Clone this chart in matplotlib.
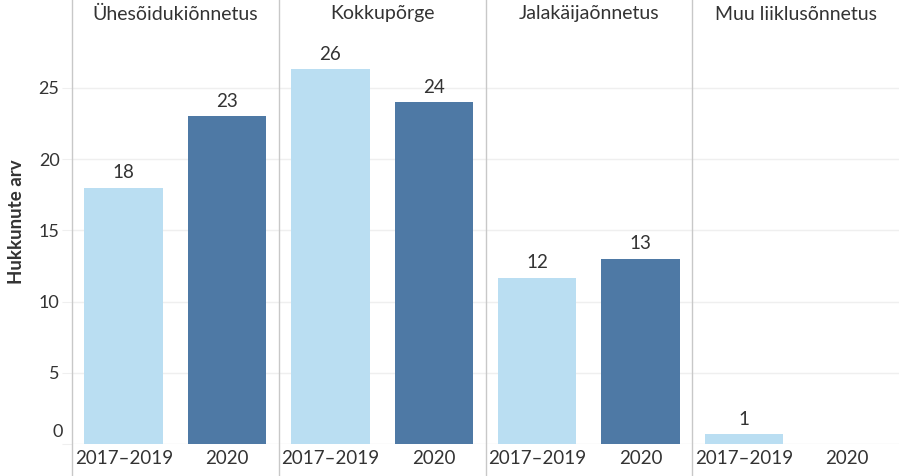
import matplotlib.pyplot as plt
import numpy as np

plt.rcParams['font.family'] = ['Lato', 'DejaVu Sans']

# data
categories = ["Ühesõidukiõnnetus", "Kokkupõrge", "Jalakäijaõnnetus", "Muu liiklusõnnetus"]
periods = ["2017–2019", "2020"]
avg_2017_2019 = [18.0, 26.33, 11.67, 0.67]
val_2020 = [23, 24, 13, 0]
label_2017_2019 = ["18", "26", "12", "1"]
label_2020 = ["23", "24", "13", ""]
yticks = [0, 5, 10, 15, 20, 25]

light = "#badef2"
dark = "#4e79a5"
txt = "#333333"

fig = plt.figure(figsize=(9, 4.76), dpi=100)
ax = fig.add_axes([72 / 900, 1 - 444 / 476, 827 / 900, 444 / 476])

n = len(categories)
x_light = np.arange(n) * 2
x_dark = np.arange(n) * 2 + 1
w = 0.76

ax.bar(x_light, avg_2017_2019, width=w, color=light, zorder=3)
ax.bar(x_dark, val_2020, width=w, color=dark, zorder=3)

for xi, v, lab in zip(x_light, avg_2017_2019, label_2017_2019):
    ax.text(xi, v + 0.45, lab, ha="center", va="bottom", fontsize=13.5, color=txt)
for xi, v, lab in zip(x_dark, val_2020, label_2020):
    if lab:
        ax.text(xi, v + 0.45, lab, ha="center", va="bottom", fontsize=13.5, color=txt)

ax.set_xlim(-0.5, 2 * n - 0.5)
ax.set_ylim(0, 444 / 14.24)

# column headers
for i, c in enumerate(categories):
    ax.text(2 * i + 0.5, 1 - 14 / 444, c, transform=ax.get_xaxis_transform(),
            ha="center", va="center", fontsize=14, color=txt)

# panel separators, running through the header and the tick label row
for i in range(n):
    ax.plot([2 * i - 0.5, 2 * i - 0.5], [-32 / 444, 1], transform=ax.get_xaxis_transform(),
            color="#c8c8c8", lw=1, clip_on=False, zorder=4)

# y ticks; the "0" label sits a bit above its gridline, like in tableau
ax.set_yticks(yticks)
ax.set_yticklabels(["" if t == 0 else str(t) for t in yticks])
ax.annotate("0", xy=(0, 0), xycoords=ax.get_yaxis_transform(), xytext=(-6.5, 8.6),
            textcoords="offset points", ha="right", va="center", fontsize=13, color=txt)
ax.yaxis.grid(True, color="#efefef", lw=1, zorder=0)
ax.tick_params(axis="y", length=7, color="#efefef", labelsize=13, labelcolor=txt, pad=2)

ax.set_xticks(np.arange(2 * n))
ax.set_xticklabels(periods * n)
ax.tick_params(axis="x", length=0, labelsize=13.5, labelcolor=txt, pad=4)

for s in ax.spines.values():
    s.set_visible(False)

ax.set_ylabel("Hukkunute arv", fontsize=13.5, fontweight="bold", color=txt, labelpad=10)

fig.savefig("out.png", dpi=100)
